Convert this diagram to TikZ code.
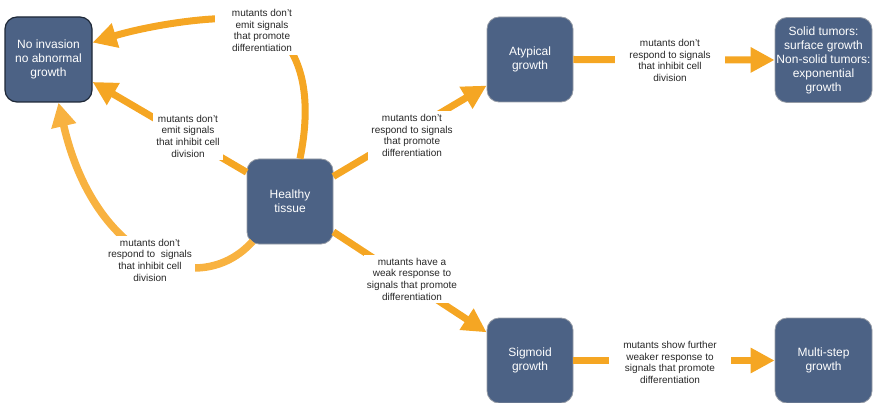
\documentclass[tikz,border=0pt]{standalone}
\usepackage{fontspec}
\setmainfont{Liberation Sans}
\usetikzlibrary{arrows.meta}
\definecolor{boxfill}{RGB}{76,98,133}
\definecolor{boxline}{RGB}{150,156,166}
\definecolor{darkline}{RGB}{30,40,55}
\definecolor{arrorange}{RGB}{245,166,35}
\definecolor{arrlight}{RGB}{248,178,64}
\definecolor{labeltext}{RGB}{40,40,40}
\tikzset{
  box/.style={draw=boxline, line width=0.8pt, fill=boxfill, rounded corners=12pt,
    minimum width=86pt, minimum height=85pt, inner sep=0pt, text=white,
    align=center, font=\fontsize{12}{14}\selectfont},
  conn/.style={draw=arrorange, line width=7pt,
    -{Triangle[length=24pt,width=24pt]}},
  lab/.style={fill=white, text=labeltext, align=center, inner sep=3pt,
    font=\fontsize{10}{11.7}\selectfont}
}
\begin{document}
\begin{tikzpicture}[x=1pt,y=-1pt]
\useasboundingbox (0,0) rectangle (874,403);
% boxes
\node[box, draw=darkline, line width=1.2pt, minimum width=87pt] (noinv) at (48.5,59.5) {No invasion\\no abnormal\\growth};
\node[box] (healthy) at (290,201.5) {Healthy\\tissue};
\node[box] (atyp) at (530,59.5) {Atypical\\growth};
\node[box, minimum width=97pt] (solid) at (823.5,60) {Solid tumors:\\surface growth\\Non-solid tumors:\\exponential\\growth};
\node[box] (sigm) at (530,360.5) {Sigmoid\\growth};
\node[box, minimum width=97pt] (multi) at (823.5,360.5) {Multi-step\\growth};
% connectors
\draw[conn] ([xshift=10pt]healthy.north) .. controls (312,100) and (305,45) .. (260,22)
   .. controls (230,12) and (150,25) .. (noinv.21);
\draw[conn] (healthy.146) -- (noinv.-27);
\draw[conn, draw=arrlight, line width=7.5pt] ([shift={(6pt,3pt)}]healthy.south west) .. controls (200,300) and (95,262) .. (noinv.-77);
\draw[conn] (healthy.30) -- (atyp.211);
\draw[conn] (atyp.east) -- (solid.west);
\draw[conn] (healthy.-35) -- (sigm.147);
\draw[conn] (sigm.east) -- (multi.west);
% labels
\node[lab, inner xsep=17pt] (l1) at (262,30.5) {mutants don't\\emit signals\\that promote\\differentiation};
\node[lab] (l2) at (188,136) {mutants don't\\emit signals\\that inhibit cell\\division};
\node[lab] (l3) at (150,260) {mutants don't\\respond to\ \ signals\\that inhibit cell\\division};
\node[lab] (l4) at (412,135.5) {mutants don't\\respond to signals\\that promote\\differentiation};
\node[lab, inner xsep=14pt] (l5) at (670,60.5) {mutants don't\\respond to signals\\that inhibit cell\\division};
\node[lab] (l6) at (412,279) {mutants have a\\weak response to\\signals that promote\\differentiation};
\node[lab, inner xsep=14pt] (l7) at (670,362.5) {mutants show further\\weaker response to\\signals that promote\\differentiation};
\end{tikzpicture}
\end{document}
